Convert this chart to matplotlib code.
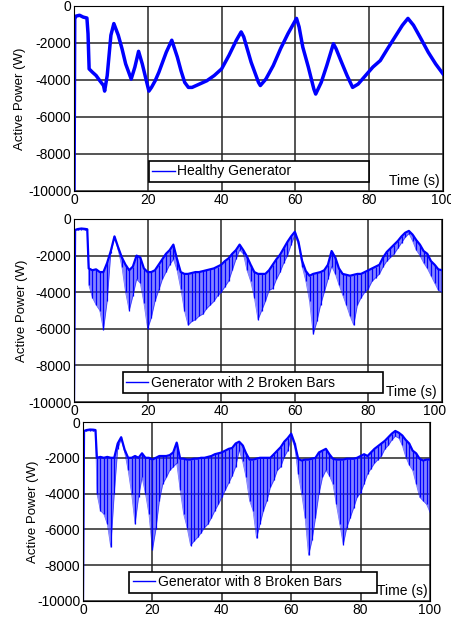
import numpy as np
import matplotlib.pyplot as plt
from matplotlib.lines import Line2D
from matplotlib.transforms import ScaledTranslation

plt.rcParams['font.family'] = ['Liberation Sans', 'DejaVu Sans']
plt.rcParams['axes.unicode_minus'] = False

# ---- healthy generator ----
t_healthy = [0, 0.2, 0.5, 1.5, 2.5, 3.5, 3.8, 4.1, 5, 6, 7, 8, 8.3, 9, 10, 10.8,
             12, 13, 14, 15.5, 16.5, 17.5, 18.5, 19.5, 20.3, 21, 22, 23, 24, 25,
             26.5, 28, 29, 30, 31, 32, 34, 36, 38, 40, 42, 44, 45.3, 46, 48, 50,
             50.5, 52, 54, 56, 58, 60.3, 61, 62, 63.5, 65, 65.5, 67, 68.5, 70.3,
             71, 72.5, 74, 75.5, 77, 79, 81, 83, 85, 87, 89, 90.5, 92, 94, 96,
             98, 100]
p_healthy = [-10000, -700, -550, -500, -600, -650, -1500, -3400, -3580, -3760,
             -4040, -4300, -4600, -3760, -1580, -950, -1580, -2300, -3130, -3950,
             -3300, -2450, -3130, -3950, -4600, -4400, -4040, -3580, -3040, -2500,
             -1850, -2760, -3500, -4130, -4400, -4400, -4220, -4040, -3760, -3400,
             -2670, -1850, -1400, -1670, -3040, -4130, -4300, -3950, -3220, -2300,
             -1490, -670, -1130, -2220, -3300, -4490, -4760, -4130, -3220, -2040,
             -2300, -3040, -3760, -4400, -4220, -3760, -3300, -2950, -2300, -1670,
             -1040, -670, -1040, -1760, -2500, -3130, -3670]

# sample times for the broken-bar traces
t_bars = [0, 0.3, 1, 2, 3, 3.6] + list(range(4, 101))

# ---- 2 broken bars: top and bottom of the oscillation ----
up_2 = [-10000, -600, -550, -520, -540, -560,
        -2700, -2800, -2750, -2900, -2900, -2400, -1750, -950, -1550, -2100,
        -2500, -2800, -2600, -2000, -2100, -2700, -2900, -2900, -2800, -2500,
        -2200, -1900, -1700, -1400, -2200, -2900, -3000, -3000, -2950, -2900,
        -2900, -2850, -2800, -2750, -2700, -2600, -2500, -2300, -2150, -1900,
        -1700, -1400, -1700, -2050, -2500, -2900, -3000, -3000, -3000, -2800,
        -2500, -2200, -1950, -1600, -1250, -950, -700, -1250, -2300, -2850,
        -3100, -3000, -2950, -2900, -2800, -2500, -1750, -2100, -2700, -3000,
        -3050, -3100, -3050, -3000, -3000, -2900, -2800, -2700, -2600, -2500,
        -2100, -1800, -1600, -1400, -1200, -950, -750, -650, -850, -1150,
        -1400, -1750, -1900, -2300, -2500, -2750, -2800]
lo_2 = [-10000, -600, -600, -580, -600, -600,
        -3600, -4300, -4700, -5000, -6050, -4500, -1850, -1000, -1700, -2600,
        -4000, -5000, -4200, -3300, -3500, -4600, -6000, -5400, -4500, -3900,
        -3300, -2900, -2500, -2200, -2800, -3800, -5000, -5800, -5600, -5500,
        -5300, -5200, -4900, -4700, -4500, -4200, -4000, -3700, -3400, -2800,
        -2200, -1700, -1900, -2800, -3400, -4300, -5500, -5000, -4500, -3900,
        -3800, -3300, -2900, -2400, -2000, -1400, -900, -1400, -2600, -3400,
        -4500, -6300, -5600, -4700, -4000, -3300, -2600, -3000, -3600, -4150,
        -4700, -5300, -5800, -4700, -4300, -4000, -3800, -3400, -3200, -3000,
        -2600, -2300, -2100, -1900, -1600, -1300, -1000, -800, -1200, -1700,
        -2000, -2400, -2700, -3100, -3500, -3900, -4000]

# ---- 8 broken bars ----
up_8 = [-10000, -500, -450, -420, -430, -450,
        -2000, -1950, -2000, -1950, -2000, -2000, -1200, -850, -1550, -2000,
        -2000, -1900, -2000, -1750, -2000, -2000, -2100, -2000, -1900, -1900,
        -1900, -1850, -1700, -1150, -2050, -2050, -2100, -2100, -2050, -2050,
        -2000, -2000, -1950, -1900, -1800, -1750, -1700, -1600, -1500, -1450,
        -1200, -1100, -1300, -1750, -2100, -2100, -2050, -2000, -2000, -2000,
        -2000, -1800, -1600, -1400, -1100, -900, -650, -1200, -2050, -2150,
        -2100, -2100, -2050, -2000, -1700, -1600, -1500, -1800, -2050, -2100,
        -2100, -2100, -2050, -2050, -2050, -2000, -1900, -1800, -1900, -1700,
        -1500, -1350, -1200, -1050, -850, -650, -500, -600, -750, -1000,
        -1200, -1600, -1750, -2050, -2150, -2100, -2100]
lo_8 = [-10000, -500, -500, -480, -500, -500,
        -4000, -4950, -5150, -5700, -7000, -4000, -1500, -950, -1700, -2700,
        -4000, -5700, -4200, -3100, -4000, -5150, -7150, -6000, -4400, -3450,
        -3100, -2700, -2500, -2300, -3800, -5150, -5900, -6900, -6650, -6450,
        -6200, -5900, -5700, -5350, -4950, -4600, -4200, -3800, -3400, -3000,
        -2500, -1600, -2200, -3100, -4400, -4950, -6500, -5700, -4950, -4400,
        -3650, -3250, -2700, -2500, -1950, -1600, -850, -1400, -2900, -4000,
        -5350, -7450, -6600, -5350, -4000, -3100, -2700, -3000, -3450, -4600,
        -5700, -6850, -5900, -5350, -4800, -4200, -3950, -3450, -2900, -2600,
        -2300, -2100, -1900, -1500, -1300, -1000, -800, -900, -1300, -1950,
        -2400, -2700, -3450, -4200, -4400, -4600, -5050]

labels = ['Healthy Generator', 'Generator with 2 Broken Bars',
          'Generator with 8 Broken Bars']

xticks = [0, 20, 40, 60, 80, 100]
yticks = [0, -2000, -4000, -6000, -8000, -10000]

fig = plt.figure(figsize=(4.52, 6.17), dpi=100)

# axes boxes in pixels: left, top, right, bottom
boxes = [(74, 6, 443, 191), (74, 219, 442, 402), (83, 422, 430, 601)]
leg_box = [(0.203, 0.049, 0.596), (0.132, 0.048, 0.708), (0.133, 0.046, 0.713)]
time_pos = [(0.992, 0.054), (0.986, 0.056), (0.994, 0.058)]
ylab_x = [20, 22, 33]
W, H = 452., 617.

axs = []
for i, (l, t, r, b) in enumerate(boxes):
    ax = fig.add_axes([l / W, 1 - b / H, (r - l) / W, (b - t) / H])
    axs.append(ax)

# healthy
axs[0].plot(t_healthy, p_healthy, color='blue', lw=2.5)


def hatch(ax, t, up, lo):
    t = np.asarray(t, float)
    up = np.asarray(up, float)
    lo = np.asarray(lo, float)
    ax.fill_between(t, lo, up, color='#2a2aff', alpha=0.58, lw=0)
    ax.vlines(t, lo, up, color='blue', lw=0.9)
    ax.plot(t, up, color='blue', lw=1.6)
    ax.plot(t, lo, color='blue', lw=0.5, alpha=0.6)


hatch(axs[1], t_bars, up_2, lo_2)
hatch(axs[2], t_bars, up_8, lo_8)

for i, ax in enumerate(axs):
    ax.set_xlim(0, 100)
    ax.set_ylim(-10000, 0)
    ax.set_xticks(xticks)
    ax.set_yticks(yticks)
    ax.set_yticklabels([str(v) for v in yticks])
    ax.tick_params(length=0, labelsize=10, colors='black')
    ax.tick_params(axis='x', pad=1.5)
    ax.tick_params(axis='y', pad=2)
    ax.grid(True, color='0.15', lw=1.1)
    ax.set_axisbelow(True)
    for s in ax.spines.values():
        s.set_color('black')
        s.set_linewidth(0.8)
    x0, y0, w = leg_box[i]
    h = Line2D([], [], color='blue', lw=1)
    leg = ax.legend([h], [labels[i]], loc='lower left',
                    bbox_to_anchor=(x0, y0, w, 0.1), mode='expand',
                    borderaxespad=0, handlelength=1.6, handletextpad=0.2,
                    borderpad=0.25, fancybox=False, framealpha=1,
                    edgecolor='black', fontsize=10)
    leg.get_frame().set_linewidth(1.2)
    tx, ty = time_pos[i]
    ax.text(tx, ty, 'Time (s)', ha='right', va='center',
            transform=ax.transAxes, fontsize=10)
    l, t, r, b = boxes[i]
    fig.text(ylab_x[i] / W, 1 - (t + b) / 2 / H, 'Active Power (W)',
             rotation=90, ha='center', va='center', fontsize=9.5)

# middle panel: the "100" label sits a little left of the edge
fig.canvas.draw()
last = axs[1].get_xticklabels()[-1]
last.set_transform(last.get_transform() +
                   ScaledTranslation(-7 / 100, 0, fig.dpi_scale_trans))

fig.savefig('out.png', dpi=100)
